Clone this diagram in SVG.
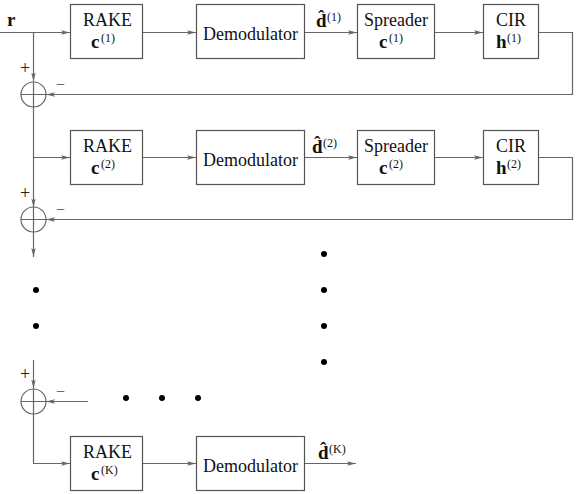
<svg xmlns="http://www.w3.org/2000/svg" width="576" height="494" viewBox="0 0 576 494">
<style>
.box{fill:#fff;stroke:#555;stroke-width:1.2}
.ln{fill:none;stroke:#666;stroke-width:1.2}
.t{font-family:"Liberation Serif",serif;font-size:18px;fill:#111}
.b{font-family:"Liberation Serif",serif;font-size:19px;font-weight:bold;fill:#111}
.s{font-family:"Liberation Serif",serif;font-size:12px;fill:#111}
.sg{font-family:"Liberation Serif",serif;font-size:18px;fill:#222}
.mn{font-family:"Liberation Serif",serif;font-size:16px;fill:#555}
.dot{fill:#000}
</style>
<defs>
<marker id="ah" markerWidth="10" markerHeight="6" refX="9" refY="3" orient="auto" markerUnits="userSpaceOnUse">
<path d="M0,0.8 L9,3 L0,5.2 L2,3 Z" fill="#666"/>
</marker>
</defs>

<g id="connectors">
<path class="ln" d="M0,32.5 H70" marker-end="url(#ah)"/>
<path class="ln" d="M33.5,32.5 V81.5" marker-end="url(#ah)"/>
<path class="ln" d="M142.5,32.5 H196" marker-end="url(#ah)"/>
<path class="ln" d="M304.5,32.5 H357" marker-end="url(#ah)"/>
<path class="ln" d="M434.5,32.5 H483" marker-end="url(#ah)"/>
<path class="ln" d="M538.5,32.5 H572.5 V94.5 H46" marker-end="url(#ah)"/>
<path class="ln" d="M33.5,106.5 V207.5" marker-end="url(#ah)"/>
<path class="ln" d="M33.5,157.5 H70" marker-end="url(#ah)"/>
<path class="ln" d="M142.5,157.5 H196" marker-end="url(#ah)"/>
<path class="ln" d="M304.5,157.5 H357" marker-end="url(#ah)"/>
<path class="ln" d="M434.5,157.5 H483" marker-end="url(#ah)"/>
<path class="ln" d="M538.5,157.5 H572.5 V219.5 H46" marker-end="url(#ah)"/>
<path class="ln" d="M33.5,232 V257" marker-end="url(#ah)"/>
<path class="ln" d="M33.5,360 V388.5" marker-end="url(#ah)"/>
<path class="ln" d="M88,401.5 H46" marker-end="url(#ah)"/>
<path class="ln" d="M33.5,413.5 V463.5 H70" marker-end="url(#ah)"/>
<path class="ln" d="M142.5,463.5 H196" marker-end="url(#ah)"/>
<path class="ln" d="M304.5,463.5 H356" marker-end="url(#ah)"/>
</g>

<text class="b" x="7" y="26">r</text>

<g id="rake1">
<rect class="box" x="70.5" y="4.5" width="72" height="54"/>
<text class="t" x="83" y="26">RAKE</text>
<text class="b" x="91" y="48">c</text><text class="s" x="101" y="42">(1)</text>
</g>
<g id="demod1">
<rect class="box" x="196.5" y="4.5" width="108" height="54"/>
<text class="t" x="250.5" y="40" text-anchor="middle">Demodulator</text>
</g>
<g id="dhat1">
<text class="b" x="316" y="27">d̂</text><text class="s" x="327" y="21">(1)</text>
</g>
<g id="spread1">
<rect class="box" x="357.5" y="4.5" width="77" height="54"/>
<text class="t" x="396" y="26" text-anchor="middle">Spreader</text>
<text class="b" x="379" y="48">c</text><text class="s" x="389" y="42">(1)</text>
</g>
<g id="cir1">
<rect class="box" x="483.5" y="4.5" width="55" height="54"/>
<text class="t" x="511" y="26" text-anchor="middle">CIR</text>
<text class="b" x="496" y="48">h</text><text class="s" x="507" y="42">(1)</text>
</g>
<g id="sum1">
<circle class="ln" cx="33.5" cy="94.5" r="12.5"/>
<path class="ln" d="M21,94.5 H46 M33.5,82 V107"/>
<text class="sg" x="20" y="74">+</text>
<text class="mn" x="56" y="90">−</text>
</g>

<g id="rake2">
<rect class="box" x="70.5" y="130.5" width="72" height="54"/>
<text class="t" x="83" y="152">RAKE</text>
<text class="b" x="91" y="174">c</text><text class="s" x="101" y="168">(2)</text>
</g>
<g id="demod2">
<rect class="box" x="196.5" y="130.5" width="108" height="54"/>
<text class="t" x="250.5" y="166" text-anchor="middle">Demodulator</text>
</g>
<g id="dhat2">
<text class="b" x="312" y="153">d̂</text><text class="s" x="323" y="147">(2)</text>
</g>
<g id="spread2">
<rect class="box" x="357.5" y="130.5" width="77" height="54"/>
<text class="t" x="396" y="152" text-anchor="middle">Spreader</text>
<text class="b" x="379" y="174">c</text><text class="s" x="389" y="168">(2)</text>
</g>
<g id="cir2">
<rect class="box" x="483.5" y="130.5" width="55" height="54"/>
<text class="t" x="511" y="152" text-anchor="middle">CIR</text>
<text class="b" x="496" y="174">h</text><text class="s" x="507" y="168">(2)</text>
</g>
<g id="sum2">
<circle class="ln" cx="33.5" cy="219.5" r="12.5"/>
<path class="ln" d="M21,219.5 H46 M33.5,207 V232"/>
<text class="sg" x="20" y="199">+</text>
<text class="mn" x="56" y="215">−</text>
</g>

<g id="dots">
<circle class="dot" cx="36" cy="290" r="3"/>
<circle class="dot" cx="36" cy="326" r="3"/>
<circle class="dot" cx="324" cy="254" r="3"/>
<circle class="dot" cx="324" cy="290" r="3"/>
<circle class="dot" cx="324" cy="326" r="3"/>
<circle class="dot" cx="324" cy="362" r="3"/>
<circle class="dot" cx="126" cy="398" r="3"/>
<circle class="dot" cx="162" cy="398" r="3"/>
<circle class="dot" cx="198" cy="398" r="3"/>
</g>

<g id="sumK">
<circle class="ln" cx="33.5" cy="401.5" r="12.5"/>
<path class="ln" d="M21,401.5 H46 M33.5,389 V414"/>
<text class="sg" x="20" y="380">+</text>
<text class="mn" x="56" y="397">−</text>
</g>
<g id="rakeK">
<rect class="box" x="70.5" y="436.5" width="72" height="54"/>
<text class="t" x="83" y="458">RAKE</text>
<text class="b" x="91" y="480">c</text><text class="s" x="101" y="474">(K)</text>
</g>
<g id="demodK">
<rect class="box" x="196.5" y="436.5" width="108" height="54"/>
<text class="t" x="250.5" y="472" text-anchor="middle">Demodulator</text>
</g>
<g id="dhatK">
<text class="b" x="318" y="459">d̂</text><text class="s" x="329" y="453">(K)</text>
</g>
</svg>
